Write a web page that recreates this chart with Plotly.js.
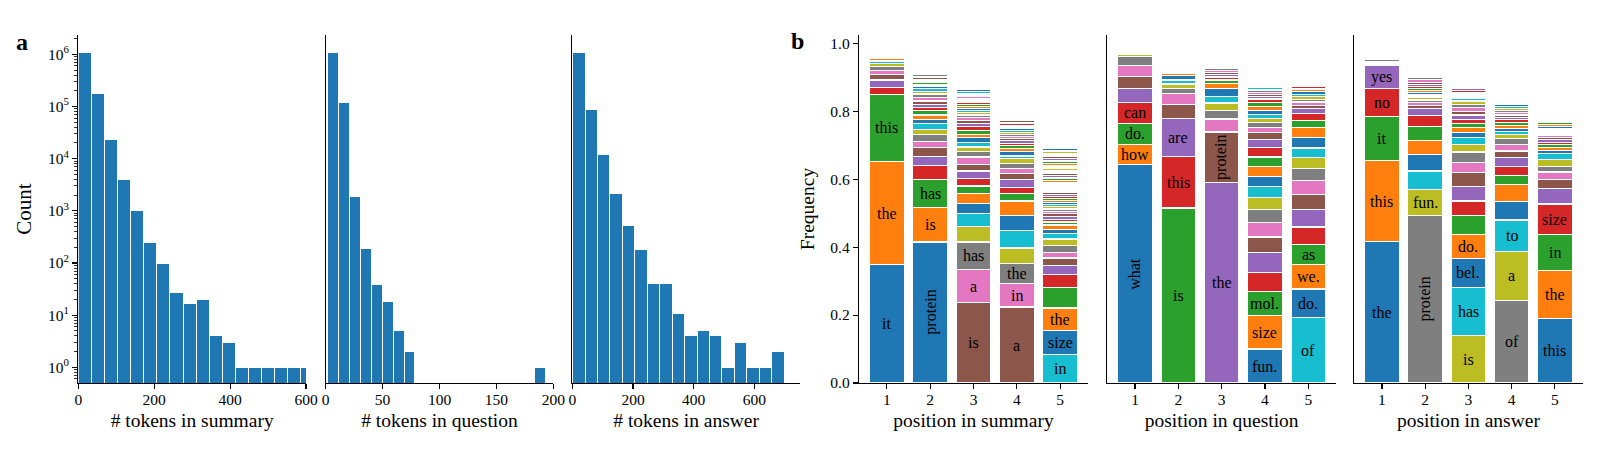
<!DOCTYPE html>
<html><head><meta charset="utf-8">
<script src="https://cdn.plot.ly/plotly-3.0.1.min.js"></script>
<style>html,body{margin:0;padding:0;background:#fff}#chart{width:1600px;height:450px}</style>
</head><body><div id="chart"></div>
<script>
// ---------- panel a: token-length histograms ----------
const summaryCounts  = [1100000, 177000, 23600, 4050, 1030, 252, 96, 27, 17, 20, 4, 3, 1, 1, 1, 1, 1, 1];
const summaryBinStart = 0, summaryBinWidth = 34.5;
const questionCounts = [1100000, 120000, 1910, 193, 38, 18, 5, 2, 0, 0, 0, 0, 0, 0, 0, 0, 0, 0, 0, 1];
const questionBinStart = 2, questionBinWidth = 9.55;
const answerCounts   = [1100000, 86000, 12200, 2120, 517, 179, 40, 40, 11, 4, 5, 4, 1, 3, 1, 1, 2];
const answerBinStart = 1, answerBinWidth = 41.0;

// ---------- panel b: word frequency by position ----------
const positions = [1, 2, 3, 4, 5];

const summaryFreq = [
  [0.348, 0.304, 0.198, 0.021, 0.021, 0.016, 0.013, 0.011, 0.008, 0.006, 0.004, 0.005],
  [0.415, 0.102, 0.083, 0.041, 0.026, 0.026, 0.019, 0.019, 0.016, 0.017, 0.012, 0.013, 0.012, 0.009, 0.011, 0.009, 0.011, 0.010, 0.008, 0.008, 0.007, 0.005, 0.005, 0.005, 0.005, 0.0045, 0.0045, 0.0045, 0.0045],
  [0.238, 0.095, 0.082, 0.046, 0.039, 0.029, 0.030, 0.021, 0.021, 0.023, 0.020, 0.021, 0.017, 0.013, 0.014, 0.013, 0.010, 0.012, 0.012, 0.009, 0.008, 0.008, 0.008, 0.007, 0.007, 0.006, 0.006, 0.006, 0.006, 0.006, 0.005, 0.005, 0.005, 0.005, 0.005, 0.005, 0.005],
  [0.2235, 0.069, 0.059, 0.046, 0.051, 0.044, 0.043, 0.022, 0.019, 0.022, 0.018, 0.015, 0.015, 0.014, 0.008, 0.012, 0.010, 0.008, 0.007, 0.008, 0.007, 0.006, 0.006, 0.006, 0.005, 0.005, 0.005, 0.005, 0.005, 0.0045, 0.0045],
  [0.083, 0.072, 0.066, 0.061, 0.038, 0.026, 0.022, 0.016, 0.020, 0.020, 0.015, 0.014, 0.012, 0.009, 0.008, 0.008, 0.008, 0.007, 0.007, 0.007, 0.007, 0.006, 0.006, 0.006, 0.006, 0.006, 0.006, 0.006, 0.006, 0.006, 0.006, 0.005, 0.005, 0.005, 0.005, 0.005, 0.005, 0.005, 0.005, 0.005, 0.005, 0.005, 0.005, 0.005, 0.005, 0.005, 0.005, 0.005, 0.005, 0.0045, 0.0045, 0.0045, 0.0045]
];
const summaryWords = [["it", "the", "this"], ["protein", "is", "has"], ["is", "a", "has"], ["a", "in", "the"], ["in", "size", "the"]];
const summaryColorStart = [0, 0, 5, 5, 9];

const questionFreq = [
  [0.643, 0.060, 0.061, 0.062, 0.040, 0.037, 0.031, 0.026, 0.006],
  [0.515, 0.151, 0.113, 0.041, 0.032, 0.014, 0.014, 0.012, 0.014, 0.006],
  [0.590, 0.149, 0.038, 0.024, 0.023, 0.020, 0.022, 0.015, 0.011, 0.009, 0.008, 0.006, 0.005, 0.005, 0.005],
  [0.100, 0.098, 0.071, 0.057, 0.058, 0.046, 0.043, 0.037, 0.036, 0.032, 0.030, 0.029, 0.028, 0.028, 0.023, 0.021, 0.016, 0.013, 0.013, 0.012, 0.012, 0.012, 0.010, 0.011, 0.007, 0.006, 0.006, 0.005, 0.005, 0.005, 0.0045],
  [0.194, 0.083, 0.071, 0.059, 0.052, 0.051, 0.046, 0.039, 0.037, 0.031, 0.029, 0.030, 0.029, 0.022, 0.020, 0.015, 0.010, 0.009, 0.008, 0.008, 0.007, 0.007, 0.006, 0.005, 0.005, 0.0045]
];
const questionWords = [["what", "how", "do.", "can"], ["is", "this", "are"], ["the", "protein"], ["fun.", "size", "mol."], ["of", "do.", "we.", "as"]];
const questionColorStart = [0, 2, 4, 0, 9];

const answerFreq = [
  [0.417, 0.237, 0.130, 0.083, 0.069, 0.006, 0.005, 0.005],
  [0.492, 0.078, 0.054, 0.049, 0.040, 0.042, 0.032, 0.020, 0.011, 0.008, 0.007, 0.009, 0.006, 0.007, 0.006, 0.005, 0.006, 0.007, 0.006, 0.008, 0.008],
  [0.140, 0.142, 0.085, 0.070, 0.055, 0.044, 0.042, 0.041, 0.031, 0.030, 0.023, 0.020, 0.014, 0.014, 0.014, 0.011, 0.013, 0.011, 0.011, 0.009, 0.010, 0.009, 0.006, 0.006, 0.005, 0.006, 0.005],
  [0.243, 0.144, 0.093, 0.054, 0.051, 0.027, 0.025, 0.026, 0.020, 0.018, 0.019, 0.011, 0.010, 0.009, 0.009, 0.008, 0.008, 0.007, 0.007, 0.007, 0.006, 0.006, 0.006, 0.006],
  [0.191, 0.140, 0.105, 0.091, 0.045, 0.028, 0.021, 0.017, 0.019, 0.018, 0.009, 0.010, 0.008, 0.007, 0.007, 0.007, 0.007, 0.006, 0.006, 0.006, 0.006, 0.006, 0.006, 0.005]
];
const answerWords = [["the", "this", "it", "no", "yes"], ["protein", "fun."], ["is", "has", "bel.", "do."], ["of", "a", "to"], ["this", "the", "in", "size"]];
const answerColorStart = [0, 7, 8, 7, 0];

const rotatedWords = ["what", "protein"];

// ---------- styling ----------
const tab10 = ["#1f77b4", "#ff7f0e", "#2ca02c", "#d62728", "#9467bd", "#8c564b", "#e377c2", "#7f7f7f", "#bcbd22", "#17becf"];
const SERIF = "Liberation Serif, Times New Roman, DejaVu Serif, serif";
const TICK_SIZE = 15.5, TITLE_SIZE = 19.5, WORD_SIZE = 16;
const W = 1600, H = 450, MT = 35, MB = 66.7;
const PH = H - MT - MB;

function histTrace(counts, start, width, xa, ya) {
  const x = counts.map((_, i) => start + (i + 0.5) * width);
  return {type: "bar", x: x, y: counts, width: width, xaxis: xa, yaxis: ya,
    marker: {color: "#1f77b4", line: {color: "white", width: 1}}, hoverinfo: "skip"};
}

function stackTraces(freqs, colorStart, xa, ya) {
  const maxLen = Math.max(...freqs.map(f => f.length));
  const out = [];
  for (let k = 0; k < maxLen; k++) {
    const x = [], y = [], c = [];
    freqs.forEach((f, p) => {
      if (k < f.length) { x.push(positions[p]); y.push(f[k]); c.push(tab10[(colorStart[p] + k) % 10]); }
    });
    out.push({type: "bar", x: x, y: y, width: 0.8, xaxis: xa, yaxis: ya,
      marker: {color: c, line: {color: "white", width: 1.2}}, hoverinfo: "skip"});
  }
  return out;
}

function wordAnnotations(freqs, words, xref, yref) {
  const anns = [];
  freqs.forEach((f, p) => {
    let base = 0;
    words[p].forEach((w, k) => {
      anns.push({x: positions[p], y: base + f[k] / 2, xref: xref, yref: yref, text: w, showarrow: false,
        textangle: rotatedWords.includes(w) ? -90 : 0, font: {family: SERIF, size: WORD_SIZE, color: "black"}});
      base += f[k];
    });
  });
  return anns;
}

const data = [
  histTrace(summaryCounts, summaryBinStart, summaryBinWidth, "x", "y"),
  histTrace(questionCounts, questionBinStart, questionBinWidth, "x2", "y2"),
  histTrace(answerCounts, answerBinStart, answerBinWidth, "x3", "y3"),
  ...stackTraces(summaryFreq, summaryColorStart, "x4", "y4"),
  ...stackTraces(questionFreq, questionColorStart, "x5", "y5"),
  ...stackTraces(answerFreq, answerColorStart, "x6", "y6")
];

// log-axis ticks
const decades = [0, 1, 2, 3, 4, 5, 6];
const majorVals = decades.map(d => Math.pow(10, d));
const majorText = decades.map(d => "10<sup>" + d + "</sup>");
const minorVals = [];
for (let d = -1; d <= 6; d++) for (let m = 2; m <= 9; m++) minorVals.push(m * Math.pow(10, d));

const tickFont = {family: SERIF, size: TICK_SIZE, color: "black"};
const titleFont = {family: SERIF, size: TITLE_SIZE, color: "black"};
const baseAxis = {showline: true, linecolor: "black", linewidth: 1.2, showgrid: false, zeroline: false,
  ticks: "outside", ticklen: 5, tickwidth: 1.1, tickcolor: "black", tickfont: tickFont};

function dom(a, b) { return [a / W, b / W]; }

function xAxis(d, range, tickvals, title, anchor) {
  return Object.assign({}, baseAxis, {domain: d, range: range, tickmode: "array", tickvals: tickvals,
    anchor: anchor, ticklabelstandoff: -3, title: {text: title, font: titleFont, standoff: 6}});
}
function logY(anchor, showLabels, title) {
  const ax = Object.assign({}, baseAxis, {type: "log", range: [-0.3, 6.37], domain: [0, 1], anchor: anchor});
  if (showLabels) {
    ax.tickmode = "array"; ax.tickvals = majorVals; ax.ticktext = majorText;
    ax.minor = {tickmode: "array", tickvals: minorVals, ticks: "outside", ticklen: 3, tickwidth: 0.8, tickcolor: "black"};
    ax.title = {text: title, font: Object.assign({}, titleFont, {size: 21}), standoff: 10};
  } else {
    ax.ticks = ""; ax.showticklabels = false;
  }
  return ax;
}
function freqY(anchor, showLabels, title) {
  const ax = Object.assign({}, baseAxis, {range: [0, 1.0244], domain: [0, 1], anchor: anchor});
  if (showLabels) {
    ax.tickmode = "linear"; ax.tick0 = 0; ax.dtick = 0.2; ax.tickformat = ".1f";
    ax.title = {text: title, font: titleFont, standoff: 10};
  } else {
    ax.ticks = ""; ax.showticklabels = false;
  }
  return ax;
}

// panel letters: pixel positions converted to paper coordinates (plot area)
function paperY(py) { return (H - MB - py) / PH; }

const layout = {
  width: W, height: H,
  margin: {l: 0, r: 0, t: MT, b: MB, pad: 0},
  paper_bgcolor: "white", plot_bgcolor: "white",
  showlegend: false, hovermode: false, barmode: "stack", bargap: 0,
  font: {family: SERIF, color: "black"},
  xaxis:  xAxis(dom(78.3, 306), [0, 600], [0, 200, 400, 600], "# tokens in summary", "y"),
  xaxis2: xAxis(dom(325.7, 553.3), [0, 200], [0, 50, 100, 150, 200], "# tokens in question", "y2"),
  xaxis3: xAxis(dom(572.3, 800), [0, 750], [0, 200, 400, 600], "# tokens in answer", "y3"),
  xaxis4: xAxis(dom(859, 1088), [0.36, 5.64], positions, "position in summary", "y4"),
  xaxis5: xAxis(dom(1107.3, 1336), [0.36, 5.64], positions, "position in question", "y5"),
  xaxis6: xAxis(dom(1354.3, 1582.5), [0.36, 5.64], positions, "position in answer", "y6"),
  yaxis:  logY("x", true, "Count"),
  yaxis2: logY("x2", false),
  yaxis3: logY("x3", false),
  yaxis4: freqY("x4", true, "Frequency"),
  yaxis5: freqY("x5", false),
  yaxis6: freqY("x6", false),
  annotations: [
    {x: 14 / W, y: paperY(27), xref: "paper", yref: "paper", text: "<b>a</b>", showarrow: false,
     font: {family: SERIF, size: 24, color: "black"}},
    {x: 797 / W, y: paperY(26), xref: "paper", yref: "paper", text: "<b>b</b>", showarrow: false,
     font: {family: SERIF, size: 24, color: "black"}},
    ...wordAnnotations(summaryFreq, summaryWords, "x4", "y4"),
    ...wordAnnotations(questionFreq, questionWords, "x5", "y5"),
    ...wordAnnotations(answerFreq, answerWords, "x6", "y6")
  ]
};

Plotly.newPlot("chart", data, layout, {staticPlot: true, displayModeBar: false});
</script></body></html>
